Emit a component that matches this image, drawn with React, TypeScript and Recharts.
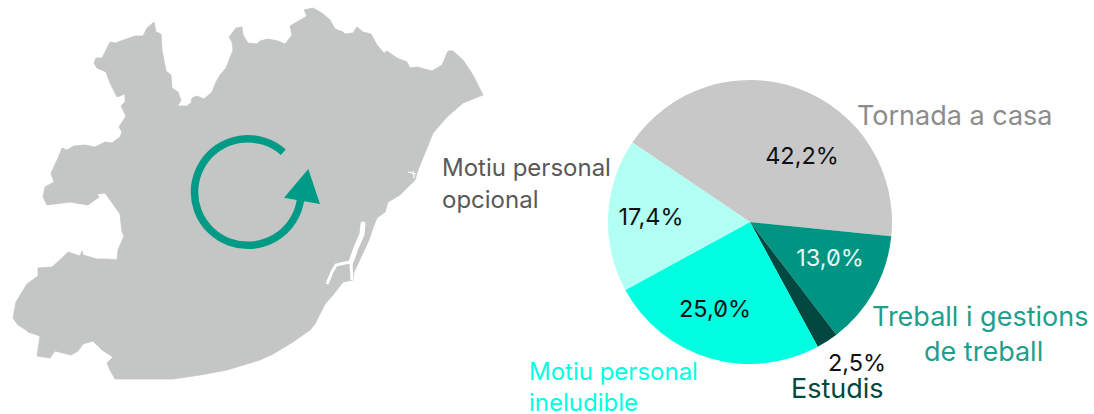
import { PieChart, Pie, Cell } from "recharts"

// motius de desplaçament
const categories = [
  "Tornada a casa",
  "Treball i gestions de treball",
  "Estudis",
  "Motiu personal ineludible",
  "Motiu personal opcional",
]
const values = [42.2, 13.0, 2.5, 25.0, 17.4]
const pctLabels = ["42,2%", "13,0%", "2,5%", "25,0%", "17,4%"]

const sliceColors = ["#c8c8c8", "#009582", "#004840", "#00ffe0", "#b2fff4"]
const pctColors = ["#111", "#e6f7f4", "#111", "#111", "#111"]

// posicio dels textos (centre, px de pagina)
const pctPos = [
  [802, 155],
  [830, 257],
  [857, 362],
  [715, 308],
  [651, 216],
]

const nameLines = [
  [{ t: "Tornada a casa", x: 857, y: 125 }],
  [
    { t: "Treball i gestions", x: 872, y: 326 },
    { t: "de treball", x: 924, y: 361 },
  ],
  [{ t: "Estudis", x: 791, y: 398 }],
  [
    { t: "Motiu personal", x: 529, y: 380 },
    { t: "ineludible", x: 529, y: 411 },
  ],
  [
    { t: "Motiu personal", x: 442, y: 176 },
    { t: "opcional", x: 442, y: 208 },
  ],
]
const nameColors = ["#8c8c8c", "#1f9e8c", "#004840", "#00ffe0", "#595959"]
const nameSizes = [27, 27, 27, 24, 24]

const data = categories.map((name, i) => ({ name, value: values[i] }))

const FONT = "Inter, 'Noto Sans', sans-serif"

const renderLabel = ({ index }: any) => (
  <g style={{ fontFamily: FONT, fontFeatureSettings: '"zero"' }}>
    <text
      x={pctPos[index][0]}
      y={pctPos[index][1]}
      textAnchor="middle"
      dominantBaseline="central"
      fontSize={23.5}
      fill={pctColors[index]}
    >
      {pctLabels[index]}
    </text>
    {nameLines[index].map((l) => (
      <text key={l.t} x={l.x} y={l.y} fontSize={nameSizes[index]} fill={nameColors[index]}>
        {l.t}
      </text>
    ))}
  </g>
)

const MAP_PATH =
  "M154 22L156 32L161 34L162 50L166 71L171 75L172 88L178 92L181 100L178 106L187 106L191 103L192 98L197 96L204 99L212 92L216 82L220 75L226 68L233 50L232 42L229 37L236 28L242 27L243 35L248 43L257 44L260 41L268 39L278 41L285 44L292 35L290 26L307 16L304 10L313 8L322 13L330 20L335 29L343 32L345 34L353 33L357 27L363 32L371 34L377 45L384 53L387 51L397 58L407 62L410 68L417 67L432 71L442 65L448 51L453 51L463 60L473 75L483 95L463 103L447 117L433 133L427 148L418 170L415 180L410 185L400 195L388 202L385 212L377 218L373 228L369 240L362 255L354 272L353 280L343 282L333 295L325 304L315 324L310 330L293 342L273 354L260 360L227 370L200 375L173 379L115 379L110 370L107 363L113 357L102 350L93 341L83 344L78 351L71 355L55 351L50 358L37 356L40 336L28 332L26 330L18 325L13 318L16 302L27 284L38 276L38 268L52 267L62 258L68 252L80 256L82 251L83 255L97 259L108 259L117 260L118 250L124 236L122 232L120 214L115 207L105 193L97 194L99 197L88 205L70 202L47 205L43 197L45 187L54 182L51 173L58 158L62 148L67 150L74 146L85 145L95 147L105 142L112 143L120 137L122 132L119 127L126 116L121 106L125 102L125 94L117 97L110 83L106 72L97 68L94 63L96 58L102 58L106 50L110 42L115 43L135 36L143 36L147 28Z"
// port de Barcelona i petits entrants de la costa
const PORT_WIDE = "M363 224L362 234L356 248L351 262"
const PORT_BRANCH = "M351 262L345 263L336 265L332 272L327 284"
const PORT_END = "M351 262L352 280"
const NOTCH = "M408 172L416 174M413 171L414 178"

export default function App() {
  return (
    <div style={{ position: "absolute", left: 0, top: 0, width: 1094, height: 414 }}>
      <svg width={1094} height={414} style={{ position: "absolute", left: 0, top: 0 }}>
        <path d={MAP_PATH} fill="#c4c6c5" stroke="#c4c6c5" strokeWidth={0.8} strokeLinejoin="round" />
        <path d={PORT_WIDE} fill="none" stroke="#fff" strokeWidth={5} strokeLinecap="round" />
        <path d={PORT_BRANCH} fill="none" stroke="#fff" strokeWidth={3} />
        <path d={PORT_END} fill="none" stroke="#fff" strokeWidth={3} />
        <path d={NOTCH} fill="none" stroke="#fff" strokeWidth={1.2} />
        <path
          d="M283.3 152.3A53.3 53.3 0 1 0 300.5 200"
          fill="none"
          stroke="#009b86"
          strokeWidth={7.5}
        />
        <path d="M308.3 169L320 204L284 197.7Z" fill="#009b86" />
      </svg>
      <div style={{ position: "absolute", left: 0, top: 0 }}>
        <PieChart width={1094} height={414} margin={{ top: 0, right: 0, bottom: 0, left: 0 }}>
          <Pie
            data={data}
            dataKey="value"
            nameKey="name"
            cx={750}
            cy={222}
            outerRadius={142}
            startAngle={146}
            endAngle={-214}
            stroke="none"
            labelLine={false}
            label={renderLabel}
            isAnimationActive={false}
          >
            {data.map((d, i) => (
              <Cell key={d.name} fill={sliceColors[i]} />
            ))}
          </Pie>
        </PieChart>
      </div>
    </div>
  )
}
